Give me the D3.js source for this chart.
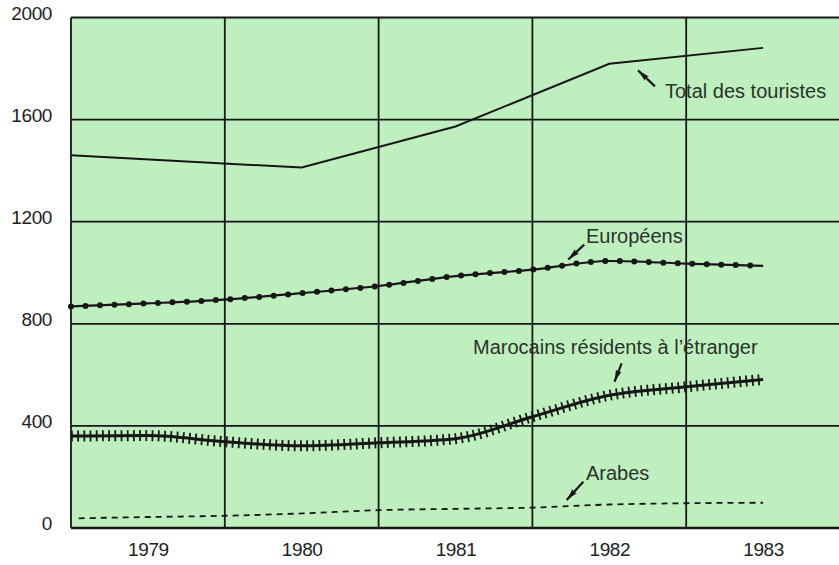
<!DOCTYPE html>
<html>
<head>
<meta charset="utf-8">
<script src="https://cdn.jsdelivr.net/npm/d3@7"></script>
<style>
  html, body { margin: 0; padding: 0; background: #ffffff; }
  svg { display: block; }
  text { font-family: "Liberation Sans", Arial, Helvetica, sans-serif; }
</style>
</head>
<body>
<svg id="chart" width="839" height="565"></svg>
<script>
// ---- Data ----
// Time is in years; year labels sit at the integers, grid lines at the half-years.
const yearTicks = [1979, 1980, 1981, 1982, 1983];
const valueTicks = [0, 400, 800, 1200, 1600, 2000];

const totalTimes  = [1978.5, 1980, 1981, 1982, 1983];
const totalValues = [1460, 1412, 1573, 1819, 1881];

const euroTimes  = [1978.5, 1979, 1979.5, 1980, 1980.5, 1981, 1981.5, 1982, 1982.5, 1983];
const euroValues = [868, 880, 895, 920, 948, 987, 1012, 1046, 1036, 1027];

const marocTimes  = [1978.5, 1979, 1979.5, 1980, 1980.5, 1981, 1981.5, 1982, 1982.5, 1983];
const marocValues = [360, 362, 338, 322, 334, 350, 436, 520, 553, 582];

const arabTimes  = [1978.55, 1979, 1979.5, 1980, 1980.5, 1981, 1981.5, 1982, 1982.5, 1983];
const arabValues = [38, 43, 48, 57, 70, 75, 80, 92, 97, 99];

// Annotation labels, in data coordinates
const labelTexts = ["Total des touristes", "Européens", "Marocains résidents à l’étranger", "Arabes"];
const labelPos   = [[1982.362, 1683], [1981.848, 1117], [1981.114, 681], [1981.848, 188]];
const arrowTails = [[1982.297, 1730], [1981.837, 1110], [1982.080, 645], [1981.831, 181]];
const arrowHeads = [[1982.187, 1793], [1981.733, 1052], [1982.034, 573], [1981.723, 110]];

// ---- Layout ----
const svg = d3.select("#chart");
const plotLeft = 71, plotRight = 840, plotTop = 17.5, plotBottom = 528;

const x = d3.scaleLinear().domain([1978.5, 1983.5]).range([plotLeft, plotRight]);
const y = d3.scaleLinear().domain([0, 2000]).range([plotBottom, plotTop]);

const ink = "#161616";

// plot background
svg.append("rect")
  .attr("x", plotLeft).attr("y", plotTop)
  .attr("width", plotRight - plotLeft).attr("height", plotBottom - plotTop)
  .attr("fill", "#bfefbf");

// horizontal grid lines
svg.append("g").selectAll("line").data(valueTicks).join("line")
  .attr("x1", plotLeft).attr("x2", plotRight)
  .attr("y1", d => y(d)).attr("y2", d => y(d))
  .attr("stroke", ink).attr("stroke-width", d => d === 0 ? 2.4 : 1.8);

// vertical grid lines at half-years (including frame edges)
const vGrid = d3.range(1978.5, 1983.51, 1);
svg.append("g").selectAll("line").data(vGrid).join("line")
  .attr("x1", d => x(d)).attr("x2", d => x(d))
  .attr("y1", plotTop).attr("y2", plotBottom)
  .attr("stroke", ink).attr("stroke-width", 1.8);

// y axis labels
const yAxis = svg.append("g")
  .attr("transform", `translate(${plotLeft},0)`)
  .call(d3.axisLeft(y).tickValues(valueTicks).tickSize(0).tickPadding(19).tickFormat(d3.format("d")));
yAxis.select(".domain").remove();
yAxis.selectAll("text")
  .attr("dy", "1.5")
  .attr("font-size", "19px")
  .attr("letter-spacing", "-0.4")
  .attr("font-family", "Liberation Sans, Arial, sans-serif")
  .attr("fill", "#222");

// x axis labels
const xAxis = svg.append("g")
  .attr("transform", `translate(0,${plotBottom})`)
  .call(d3.axisBottom(x).tickValues(yearTicks).tickSize(0).tickPadding(14.5).tickFormat(d3.format("d")));
xAxis.select(".domain").remove();
xAxis.selectAll("text")
  .attr("font-size", "19px")
  .attr("letter-spacing", "-0.4")
  .attr("font-family", "Liberation Sans, Arial, sans-serif")
  .attr("fill", "#222");

// ---- Series ----
const zip = (ts, vs) => ts.map((t, i) => [t, vs[i]]);
const lineLinear = d3.line().x(d => x(d[0])).y(d => y(d[1])).curve(d3.curveLinear);
const lineSmooth = d3.line().x(d => x(d[0])).y(d => y(d[1])).curve(d3.curveMonotoneX);

// Total des touristes: plain line
svg.append("path")
  .attr("d", lineLinear(zip(totalTimes, totalValues)))
  .attr("fill", "none").attr("stroke", ink).attr("stroke-width", 2);

// Européens: line with dots
const euroD = lineSmooth(zip(euroTimes, euroValues));
svg.append("path").attr("d", euroD)
  .attr("fill", "none").attr("stroke", ink).attr("stroke-width", 2.2);
svg.append("path").attr("d", euroD)
  .attr("fill", "none").attr("stroke", ink).attr("stroke-width", 6)
  .attr("stroke-linecap", "round").attr("stroke-dasharray", "0 14.5");

// Marocains résidents à l'étranger: line with hatch ticks
const marocD = lineSmooth(zip(marocTimes, marocValues));
svg.append("path").attr("d", marocD)
  .attr("fill", "none").attr("stroke", ink).attr("stroke-width", 3);
svg.append("path").attr("d", marocD)
  .attr("fill", "none").attr("stroke", ink).attr("stroke-width", 11)
  .attr("stroke-dasharray", "1.8 4.4");

// Arabes: dashed line
svg.append("path")
  .attr("d", lineSmooth(zip(arabTimes, arabValues)))
  .attr("fill", "none").attr("stroke", ink).attr("stroke-width", 1.8)
  .attr("stroke-dasharray", "6 5");

// ---- Annotations ----
const defs = svg.append("defs");
defs.append("marker")
  .attr("id", "arrow")
  .attr("viewBox", "0 0 12 7")
  .attr("refX", 12).attr("refY", 3.5)
  .attr("markerWidth", 12).attr("markerHeight", 7)
  .attr("markerUnits", "userSpaceOnUse")
  .attr("orient", "auto")
  .append("path")
  .attr("d", "M0,0.5 L12,3.5 L0,6.5 Q2.5,3.5 0,0.5 Z")
  .attr("fill", ink);

svg.append("g").selectAll("line").data(arrowTails).join("line")
  .attr("x1", d => x(d[0])).attr("y1", d => y(d[1]))
  .attr("x2", (d, i) => x(arrowHeads[i][0])).attr("y2", (d, i) => y(arrowHeads[i][1]))
  .attr("stroke", ink).attr("stroke-width", 2.2)
  .attr("marker-end", "url(#arrow)");

svg.append("g").selectAll("text").data(labelTexts).join("text")
  .attr("x", (d, i) => x(labelPos[i][0]))
  .attr("y", (d, i) => y(labelPos[i][1]))
  .attr("font-size", "20px")
  .attr("fill", "#2a332a")
  .text(d => d);
</script>
</body>
</html>
